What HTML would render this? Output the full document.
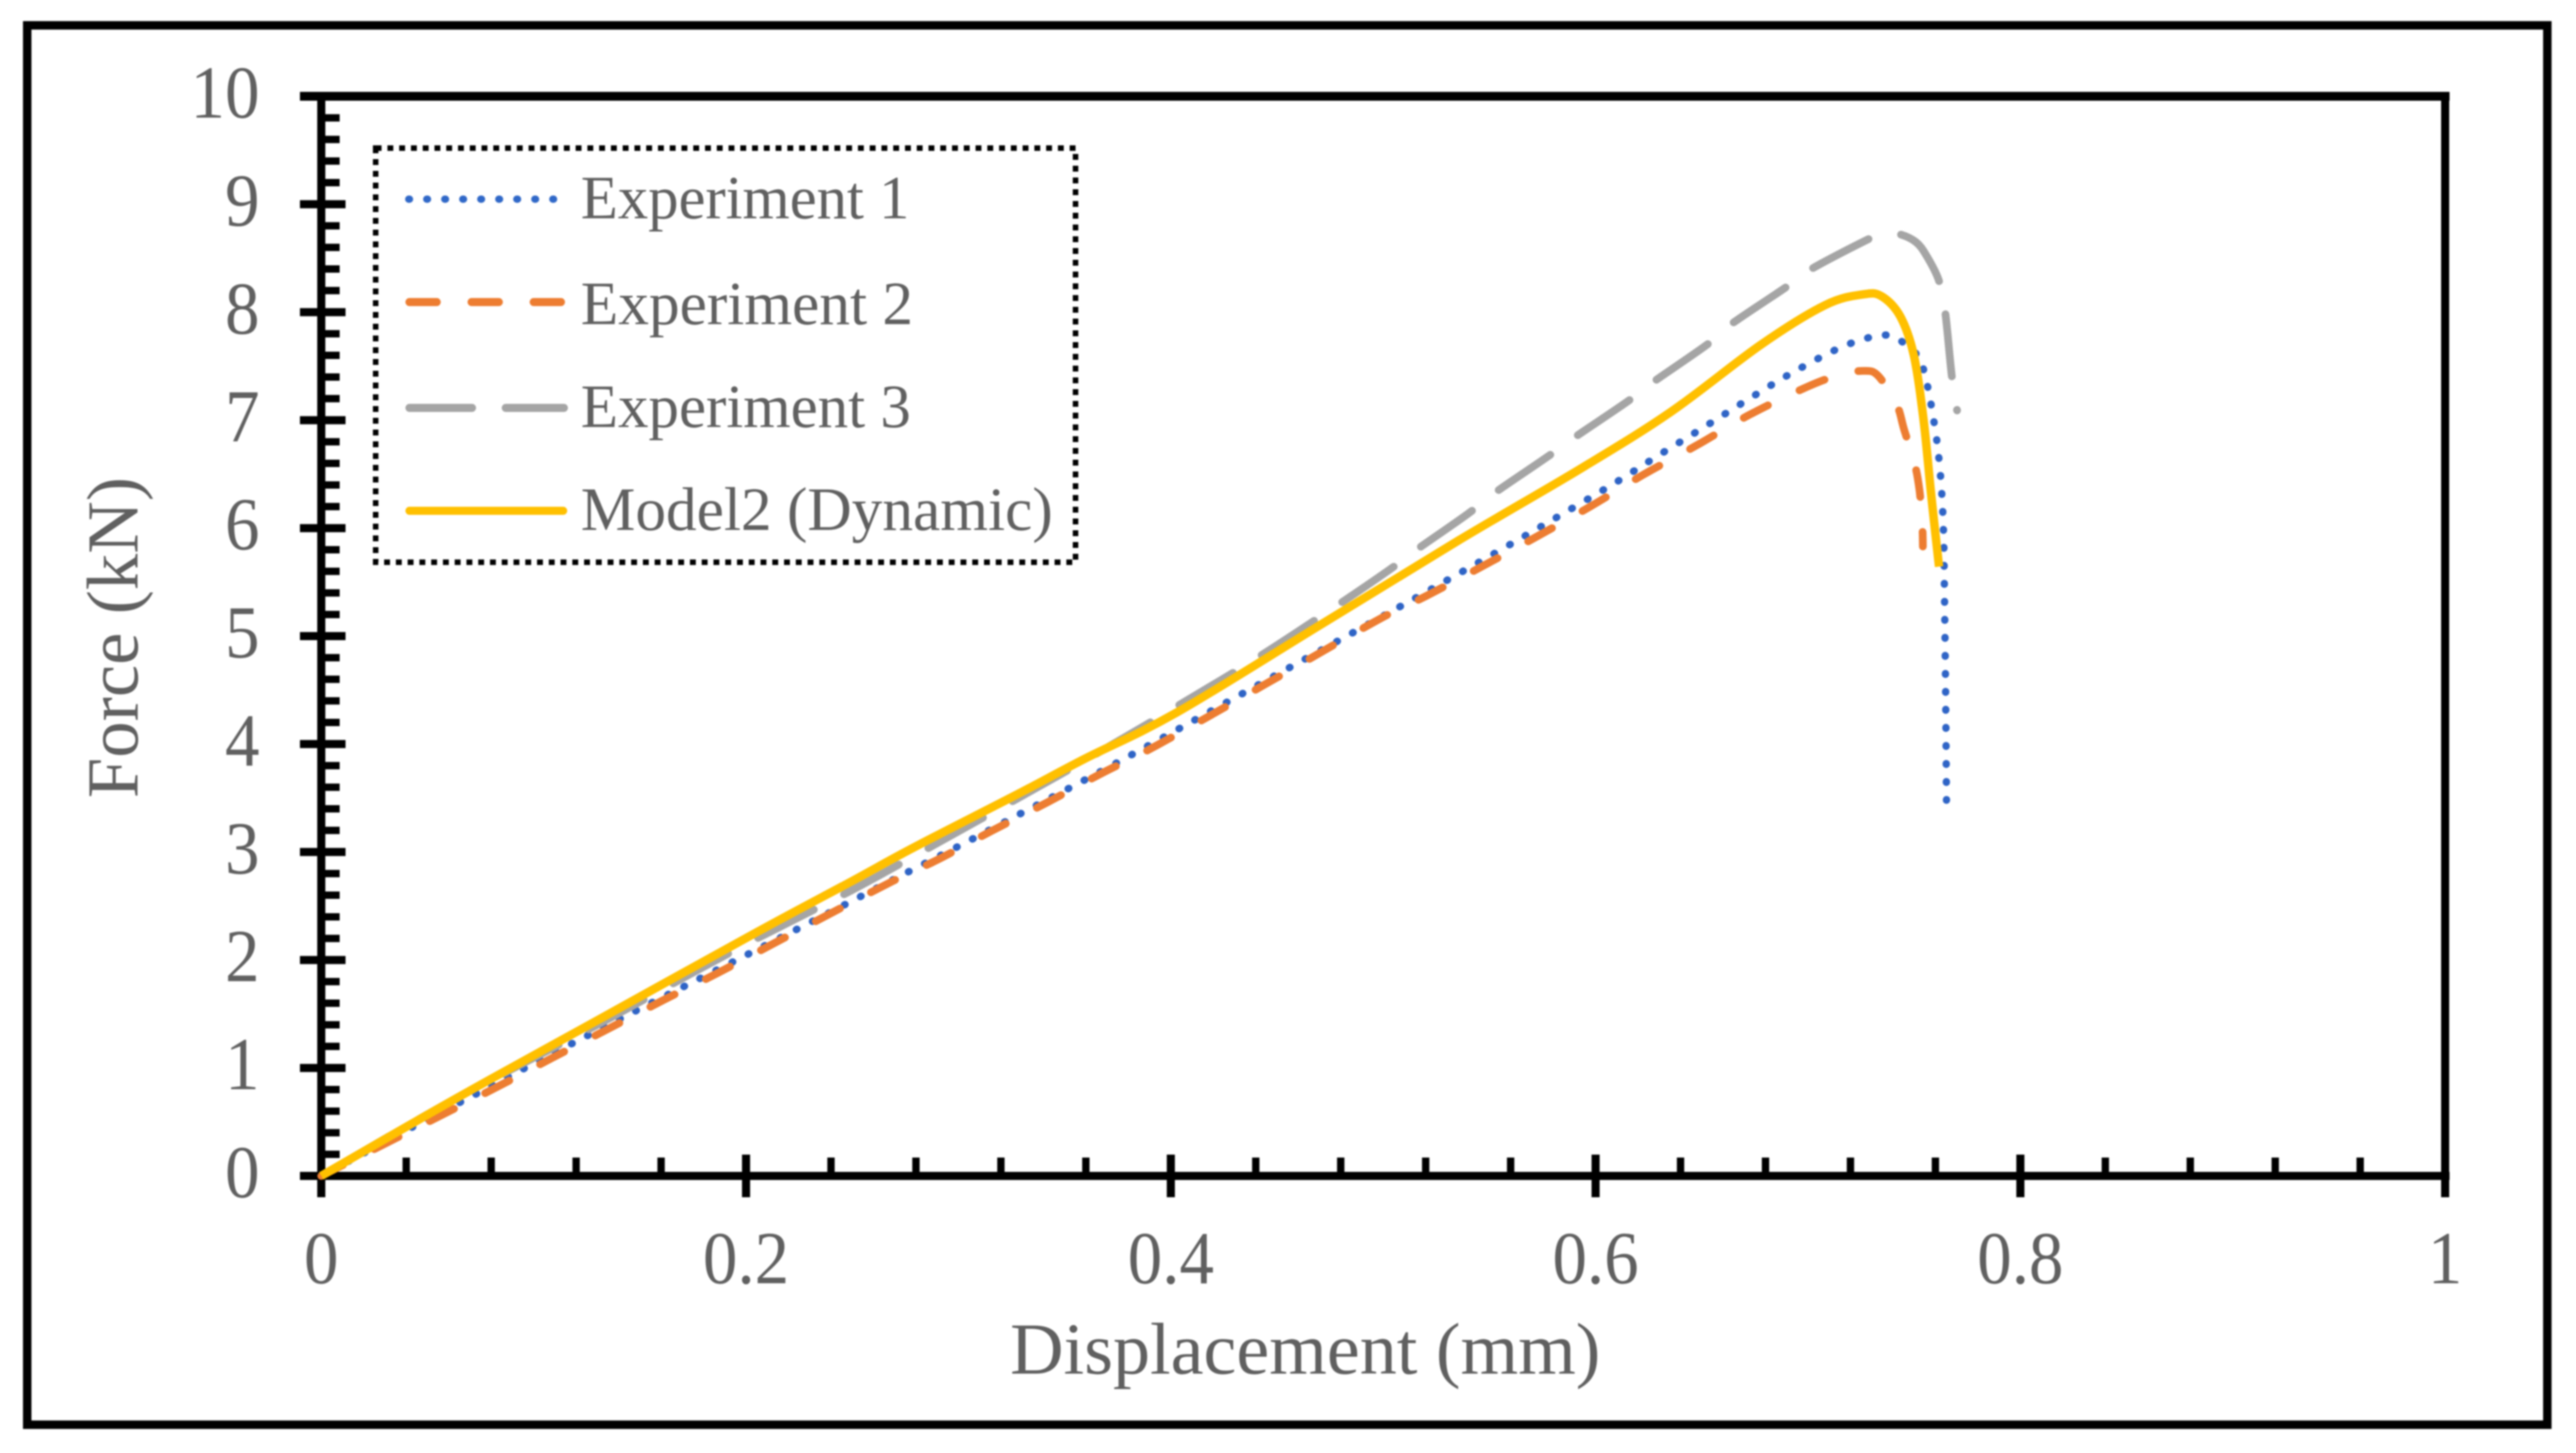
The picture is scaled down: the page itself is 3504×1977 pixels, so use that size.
<!DOCTYPE html>
<html lang="en">
<head>
<meta charset="utf-8">
<title>Force vs Displacement</title>
<style>
html,body{margin:0;padding:0;background:#fff;}
body{width:3504px;height:1977px;overflow:hidden;}
svg{display:block;filter:blur(1px);}
text{font-family:"Liberation Serif",serif;fill:#606060;}
</style>
</head>
<body>
<svg id="chart" xmlns="http://www.w3.org/2000/svg" width="3504" height="1977" viewBox="0 0 3504 1977">
  <rect x="0" y="0" width="3504" height="1977" fill="#fff"/>
  <rect x="37" y="34.5" width="3428" height="1904" fill="none" stroke="#000" stroke-width="11.5"/>
  <g id="axes"></g>
  <g id="series"></g>
  <text x="1374" y="1869" font-size="100" textLength="803" lengthAdjust="spacingAndGlyphs">Displacement (mm)</text>
  <text transform="translate(187,1086) rotate(-90)" font-size="100" textLength="437" lengthAdjust="spacingAndGlyphs">Force (kN)</text>
  <g>
    <rect x="511" y="201.5" width="952" height="563.5" fill="#fff" stroke="#000" stroke-width="7.5" stroke-dasharray="8 8"/>
    <line x1="556" y1="271" x2="756" y2="271" stroke="#3068c8" stroke-width="10" stroke-linecap="round" stroke-dasharray="1 23.5"/>
    <text x="790" y="297" font-size="84" textLength="447" lengthAdjust="spacingAndGlyphs">Experiment 1</text>
    <line x1="557" y1="411" x2="767" y2="411" stroke="#ED7D31" stroke-width="11" stroke-linecap="round" stroke-dasharray="37 47.5"/>
    <text x="790" y="441" font-size="84" textLength="452" lengthAdjust="spacingAndGlyphs">Experiment 2</text>
    <line x1="557" y1="555" x2="767" y2="555" stroke="#A5A5A5" stroke-width="11" stroke-linecap="round" stroke-dasharray="85 46"/>
    <text x="790" y="581" font-size="84" textLength="449" lengthAdjust="spacingAndGlyphs">Experiment 3</text>
    <line x1="557" y1="695" x2="766" y2="695" stroke="#FFC000" stroke-width="11" stroke-linecap="round"/>
    <text x="790" y="721" font-size="84" textLength="642" lengthAdjust="spacingAndGlyphs">Model2 (Dynamic)</text>
  </g>
</svg>
<script>
const xTickLabels = ["0", "0.2", "0.4", "0.6", "0.8", "1"];
const xTickValues = [0, 0.2, 0.4, 0.6, 0.8, 1];
const yTickLabels = ["0", "1", "2", "3", "4", "5", "6", "7", "8", "9", "10"];
const yTickValues = [0, 1, 2, 3, 4, 5, 6, 7, 8, 9, 10];
const xMinorValues = [0.04, 0.08, 0.12, 0.16, 0.24, 0.28, 0.32, 0.36, 0.44, 0.48, 0.52, 0.56, 0.64, 0.68, 0.72, 0.76, 0.84, 0.88, 0.92, 0.96];
const yMinorStep = [0.2, 0.4, 0.6, 0.8];

const exp1X = [0, 0.0446, 0.074, 0.096, 0.118, 0.1477, 0.1698, 0.1996, 0.2364, 0.273, 0.3028, 0.3323, 0.3545, 0.3836, 0.445, 0.5071, 0.5363, 0.558, 0.5797, 0.6082, 0.6293, 0.6506, 0.6716, 0.6929, 0.715, 0.7308, 0.7392, 0.7461, 0.7525, 0.7549, 0.7568, 0.7583, 0.7608, 0.7625, 0.7635, 0.764, 0.7642, 0.7648, 0.7652];
const exp1Y = [0, 0.47, 0.77, 1.0, 1.225, 1.525, 1.745, 2.04, 2.41, 2.782, 3.082, 3.387, 3.616, 3.923, 4.59, 5.264, 5.587, 5.829, 6.077, 6.408, 6.67, 6.93, 7.19, 7.443, 7.67, 7.775, 7.78, 7.7, 7.576, 7.43, 7.27, 7.107, 6.79, 6.46, 6.13, 5.81, 5.48, 4.5, 3.48];

const exp2X = [0, 0.0571, 0.0837, 0.109, 0.1353, 0.1612, 0.187, 0.23, 0.269, 0.2903, 0.3161, 0.3419, 0.3671, 0.3936, 0.445, 0.4966, 0.5205, 0.5467, 0.5715, 0.5975, 0.622, 0.6475, 0.6724, 0.6992, 0.715, 0.7265, 0.7331, 0.7417, 0.7453, 0.7502, 0.7525, 0.7538, 0.7541];
const exp2Y = [0, 0.568, 0.833, 1.096, 1.364, 1.63, 1.883, 2.33, 2.73, 2.93, 3.2, 3.46, 3.726, 3.99, 4.56, 5.14, 5.374, 5.647, 5.913, 6.2, 6.49, 6.766, 7.05, 7.305, 7.42, 7.457, 7.41, 7.148, 6.91, 6.6, 6.35, 6.04, 5.83];

const exp3X = [0, 0.06, 0.13, 0.1738, 0.2053, 0.2492, 0.2816, 0.3472, 0.387, 0.3995, 0.44, 0.478, 0.5026, 0.515, 0.5397, 0.552, 0.5773, 0.5893, 0.6148, 0.6269, 0.6525, 0.6639, 0.6888, 0.7016, 0.7283, 0.736, 0.7435, 0.7508, 0.7556, 0.7615, 0.7646, 0.7677, 0.7702];
const exp3Y = [0, 0.68, 1.4, 1.87, 2.2, 2.64, 2.99, 3.71, 4.163, 4.31, 4.79, 5.28, 5.61, 5.79, 6.13, 6.32, 6.66, 6.83, 7.17, 7.35, 7.7, 7.89, 8.22, 8.4, 8.675, 8.73, 8.72, 8.65, 8.53, 8.3, 8.005, 7.41, 7.09];

const modelX = [0, 0.0637, 0.13, 0.2053, 0.2492, 0.2797, 0.3273, 0.3591, 0.4026, 0.4701, 0.535, 0.5929, 0.6354, 0.6779, 0.7082, 0.7265, 0.7349, 0.7435, 0.7498, 0.7544, 0.7581, 0.7617];
const modelY = [0, 0.72, 1.441, 2.26, 2.723, 3.05, 3.53, 3.86, 4.29, 5.1, 5.88, 6.55, 7.076, 7.7, 8.067, 8.167, 8.145, 7.959, 7.604, 7.005, 6.29, 5.643];

const plotLeft = 437, plotRight = 3326, plotBottom = 1600, plotTop = 131;
const xMax = 1, yMax = 10;
function sx(v) { return plotLeft + (v / xMax) * (plotRight - plotLeft); }
function sy(v) { return plotBottom - (v / yMax) * (plotBottom - plotTop); }

const NS = 'http://www.w3.org/2000/svg';
const axes = document.getElementById('axes');
const seriesGroup = document.getElementById('series');

function make(tag, attrs, parent) {
  const el = document.createElementNS(NS, tag);
  for (const k in attrs) el.setAttribute(k, attrs[k]);
  parent.appendChild(el);
  return el;
}
function blackLine(x1, y1, x2, y2, w, parent) {
  return make('line', { x1: x1, y1: y1, x2: x2, y2: y2, stroke: '#000', 'stroke-width': w }, parent);
}

// axis spines
const spineBottom = blackLine(408, sy(0), plotRight + 6, sy(0), 11, axes);


const spineLeft = blackLine(sx(0), 125, sx(0), 1629, 11, axes);


const spineTop = blackLine(408, sy(yMax), plotRight + 6, sy(yMax), 12, axes);


const spineRight = blackLine(sx(xMax), 125, sx(xMax), 1629, 11, axes);



// x ticks
xTickValues.forEach(function (v, i) {
  const t = blackLine(sx(v), 1571, sx(v), 1629, 11, axes);
  
  
  const label = make('text', {
    transform: 'translate(' + sx(v) + ',1746) scale(0.92,1)',
    'text-anchor': 'middle',
    'font-size': 102
  }, axes);
  label.textContent = xTickLabels[i];
  
  
});
xMinorValues.forEach(function (v) {
  const t = blackLine(sx(v), 1575, sx(v), 1600, 10, axes);
  
  
});

// y ticks
yTickValues.forEach(function (v, i) {
  const t = blackLine(408, sy(v), 470, sy(v), 11, axes);
  
  
  const label = make('text', {
    transform: 'translate(353,' + (sy(v) + 29) + ') scale(0.92,1)',
    'text-anchor': 'end',
    'font-size': 102
  }, axes);
  label.textContent = yTickLabels[i];
  
  
  if (v < yMax) {
    yMinorStep.forEach(function (s) {
      const m = blackLine(437, sy(v + s), 462, sy(v + s), 10, axes);
      
      
    });
  }
});

// smooth curve through the data points
function curvePath(xs, ys) {
  const p = xs.map(function (x, i) { return [sx(x), sy(ys[i])]; });
  let d = 'M' + p[0][0].toFixed(1) + ' ' + p[0][1].toFixed(1);
  for (let i = 0; i < p.length - 1; i++) {
    const a = p[Math.max(i - 1, 0)], b = p[i], c = p[i + 1], e = p[Math.min(i + 2, p.length - 1)];
    const c1x = b[0] + (c[0] - a[0]) / 6, c1y = b[1] + (c[1] - a[1]) / 6;
    const c2x = c[0] - (e[0] - b[0]) / 6, c2y = c[1] - (e[1] - b[1]) / 6;
    d += 'C' + c1x.toFixed(1) + ' ' + c1y.toFixed(1) + ' ' + c2x.toFixed(1) + ' ' + c2y.toFixed(1) + ' ' + c[0].toFixed(1) + ' ' + c[1].toFixed(1);
  }
  return d;
}
// phase a dash pattern so that a dash begins a set distance before the curve's end
function phaseFromEnd(path, period, lastDashLength) {
  const rem = (path.getTotalLength() - lastDashLength) % period;
  path.setAttribute('stroke-dashoffset', (period - rem).toFixed(1));
}

const line1 = make('path', { d: curvePath(exp1X, exp1Y), fill: 'none', stroke: '#2f64c6', 'stroke-width': 10, 'stroke-linecap': 'round', 'stroke-dasharray': '1 23.5' }, seriesGroup);


phaseFromEnd(line1, 24.5, 1);
const line3 = make('path', { d: curvePath(exp3X, exp3Y), fill: 'none', stroke: '#A5A5A5', 'stroke-width': 10.5, 'stroke-linecap': 'round', 'stroke-dasharray': '85 46' }, seriesGroup);


phaseFromEnd(line3, 131, 1);
const line2 = make('path', { d: curvePath(exp2X, exp2Y), fill: 'none', stroke: '#ED7D31', 'stroke-width': 10.5, 'stroke-linecap': 'round', 'stroke-dasharray': '37 47.5' }, seriesGroup);


phaseFromEnd(line2, 84.5, 20);
const line4 = make('path', { d: curvePath(modelX, modelY), fill: 'none', stroke: '#FFC000', 'stroke-width': 11.5, 'stroke-linecap': 'butt' }, seriesGroup);


</script>
</body>
</html>
